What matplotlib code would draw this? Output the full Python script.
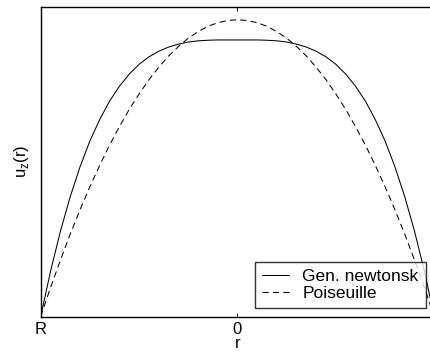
import matplotlib
matplotlib.use("Agg")
import matplotlib.pyplot as plt

plt.rcParams["font.family"] = ["Liberation Sans", "DejaVu Sans"]

# radial position, -R ... R
r = [-1.0, -0.95, -0.9, -0.85, -0.8, -0.75, -0.7, -0.65, -0.6, -0.55, -0.5,
     -0.45, -0.4, -0.35, -0.3, -0.25, -0.2, -0.15, -0.1, -0.05, 0.0,
     0.05, 0.1, 0.15, 0.2, 0.25, 0.3, 0.35, 0.4, 0.45, 0.5,
     0.55, 0.6, 0.65, 0.7, 0.75, 0.8, 0.85, 0.9, 0.95, 1.0]

# generalised newtonian (shear thinning) profile
u_gen = [0.0, 0.153, 0.287, 0.404, 0.505, 0.592, 0.664, 0.726, 0.776, 0.817, 0.850,
         0.875, 0.894, 0.908, 0.918, 0.925, 0.929, 0.931, 0.932, 0.932, 0.932,
         0.932, 0.932, 0.931, 0.929, 0.925, 0.918, 0.908, 0.894, 0.875, 0.850,
         0.817, 0.776, 0.726, 0.664, 0.592, 0.505, 0.404, 0.287, 0.153, 0.0]

# newtonian (Poiseuille) profile
u_pois = [0.0, 0.098, 0.190, 0.278, 0.360, 0.438, 0.510, 0.578, 0.640, 0.698, 0.750,
          0.798, 0.840, 0.878, 0.910, 0.938, 0.960, 0.978, 0.990, 0.9975, 1.0,
          0.9975, 0.990, 0.978, 0.960, 0.938, 0.910, 0.878, 0.840, 0.798, 0.750,
          0.698, 0.640, 0.578, 0.510, 0.438, 0.360, 0.278, 0.190, 0.098, 0.0]

xticks = [-1.0, 0.0, 1.0]
xticklabels = ["R", "0", "R"]

fs = 12

fig = plt.figure(figsize=(4.31, 3.56), dpi=100)
ax = fig.add_axes([0.0944, 0.1104, 0.9132, 0.8708])

ax.plot(r, u_gen, color="black", lw=0.75, label="Gen. newtonsk")
ax.plot(r, u_pois, color="black", lw=0.75, linestyle=(0, (6, 4)), label="Poiseuille")

ax.set_xlim(-1, 1)
ax.set_ylim(0, 1.044)
ax.set_xticks(xticks)
ax.set_xticklabels(xticklabels)
ax.set_yticks([])
ax.tick_params(axis="x", direction="in", top=True, length=3, width=0.6,
               labelsize=fs, pad=4)
for sp in ax.spines.values():
    sp.set_linewidth(1.0)

ax.set_xlabel("r", fontsize=fs, labelpad=-1)
ax.set_ylabel(r"u$_\mathregular{z}$(r)", fontsize=fs, labelpad=7)

leg = ax.legend(loc="lower right", fontsize=12.5, frameon=True, fancybox=False,
                borderaxespad=0.5, handlelength=1.6, handletextpad=0.75,
                borderpad=0.4, labelspacing=0.1)
leg.get_frame().set_edgecolor("black")
leg.get_frame().set_linewidth(1.0)

fig.savefig("out.png", dpi=100)
